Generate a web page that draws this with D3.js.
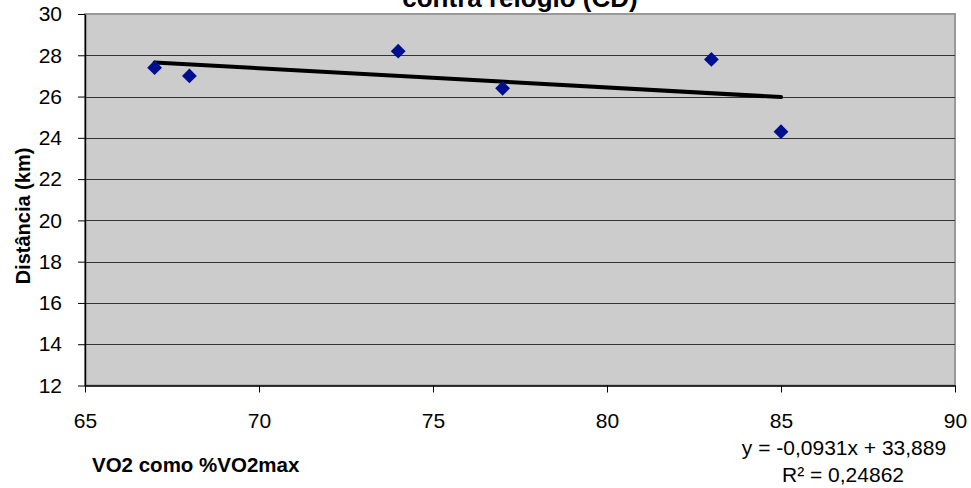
<!DOCTYPE html>
<html><head><meta charset="utf-8">
<script src="https://cdn.jsdelivr.net/npm/d3@7"></script>
<style>body{margin:0;background:#fff;} svg{display:block;font-family:Arial,"Liberation Sans",sans-serif;}</style>
</head><body>
<svg id="c" width="971" height="488"></svg>
<script>
const vo2 = [67, 68, 74, 77, 83, 85];
const distancia = [27.4, 27.0, 28.2, 26.4, 27.8, 24.3];
const xTicks = [65, 70, 75, 80, 85, 90];
const yTicks = [12, 14, 16, 18, 20, 22, 24, 26, 28, 30];
const trendSlope = -0.0931, trendIntercept = 33.889;
const eqLabel = "y = -0,0931x + 33,889";
const r2Label = "R² = 0,24862";
const title = "contra relógio (CD)";
const xTitle = "VO2 como %VO2max";
const yTitle = "Distância (km)";

const svg = d3.select("#c");
const L = 85, R = 955, T = 14, B = 385.5;
const x = d3.scaleLinear().domain([65, 90]).range([L, R]);
const y = d3.scaleLinear().domain([12, 30]).range([B, T]);

svg.append("rect").attr("x", L).attr("y", T).attr("width", R - L).attr("height", B - T)
  .attr("fill", "#cccccc").attr("stroke", "#999999").attr("stroke-width", 2);

svg.append("g").selectAll("line").data(yTicks.filter(d => d > 12 && d < 30)).join("line")
  .attr("x1", L).attr("x2", R).attr("y1", d => Math.round(y(d)) + 0.5).attr("y2", d => Math.round(y(d)) + 0.5)
  .attr("stroke", "#333333").attr("stroke-width", 1);

const xa = svg.append("g").attr("transform", `translate(0,${B})`)
  .call(d3.axisBottom(x).tickValues(xTicks).tickSize(7).tickPadding(21).tickSizeOuter(0));
const ya = svg.append("g").attr("transform", `translate(${L},0)`)
  .call(d3.axisLeft(y).tickValues(yTicks).tickSize(7).tickPadding(16).tickSizeOuter(0));
[xa, ya].forEach(a => {
  a.select(".domain").attr("stroke", "#000").attr("stroke-width", 1.5);
  a.selectAll(".tick line").attr("stroke", "#000");
  a.selectAll("text").attr("font-size", 21).attr("fill", "#000").attr("font-family", "Arial, Liberation Sans, sans-serif");
});

svg.append("line")
  .attr("x1", x(d3.min(vo2))).attr("y1", y(trendSlope * d3.min(vo2) + trendIntercept))
  .attr("x2", x(d3.max(vo2))).attr("y2", y(trendSlope * d3.max(vo2) + trendIntercept))
  .attr("stroke", "#000").attr("stroke-width", 4).attr("stroke-linecap", "round");

const sym = d3.symbol().type(d3.symbolDiamond2).size(140);
svg.append("g").selectAll("path").data(vo2.map((v, i) => [v, distancia[i]])).join("path")
  .attr("d", sym).attr("transform", d => `translate(${x(d[0])},${y(d[1])})`)
  .attr("fill", "#000f8f");

svg.append("text").attr("x", 520).attr("y", 7).attr("text-anchor", "middle")
  .attr("font-size", 26).attr("font-weight", "bold").text(title);
svg.append("text").attr("x", 92).attr("y", 472).attr("font-size", 20.5).attr("font-weight", "bold").text(xTitle);
svg.append("text").attr("transform", "translate(30,216) rotate(-90)").attr("text-anchor", "middle")
  .attr("font-size", 20).attr("font-weight", "bold").text(yTitle);
svg.append("text").attr("x", 844).attr("y", 455).attr("text-anchor", "middle").attr("font-size", 21).text(eqLabel);
svg.append("text").attr("x", 843).attr("y", 482).attr("text-anchor", "middle").attr("font-size", 21).text(r2Label);
</script>
</body></html>
